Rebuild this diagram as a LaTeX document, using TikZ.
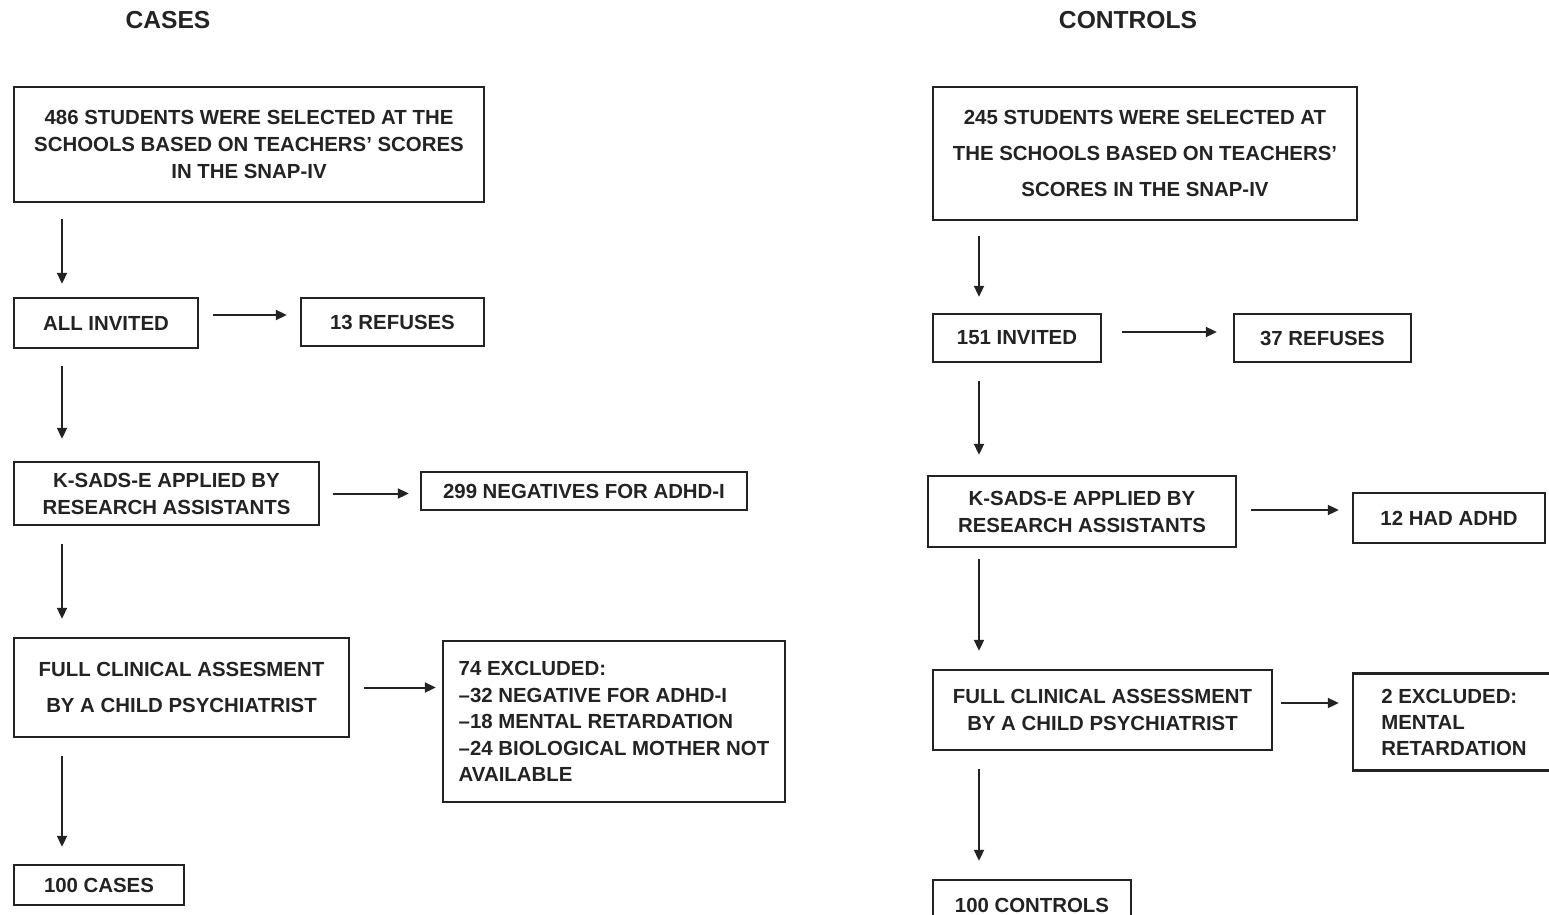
\documentclass[tikz,border=0pt]{standalone}
\usepackage{fontspec}
\setmainfont{Liberation Sans}
\usetikzlibrary{arrows.meta,calc}
\definecolor{ink}{RGB}{35,35,35}
\begin{document}
\begin{tikzpicture}[x=0.5pt,y=-0.5pt,
  box/.style={draw=ink,line width=1.2pt,inner sep=0pt,text=ink,align=center,
    font=\bfseries\fontsize{10.2}{13.5}\selectfont},
  wide/.style={font=\bfseries\fontsize{10.2}{18}\selectfont},
  arr/.style={draw=ink,line width=1pt,-{Triangle[length=5.5pt,width=5pt]}},
  ttl/.style={text=ink,font=\bfseries\fontsize{12.3}{14}\selectfont}]
\clip (0,0) rectangle (1549,915);
\fill[white] (0,0) rectangle (1549,915);
\coordinate (colL) at (62,0);
\coordinate (colR) at (979,0);
% titles
\node[ttl] (tc) at (168,20) {CASES};
\node[ttl] (tk) at (1128,20) {CONTROLS};
% cases column
\node[box,minimum width=235pt,minimum height=57.5pt] (A1) at (249,144.5)
  {486 STUDENTS WERE SELECTED AT THE\\SCHOOLS BASED ON TEACHERS' SCORES\\IN THE SNAP-IV};
\node[box,minimum width=92pt,minimum height=25pt] (A2) at (106,323) {ALL INVITED};
\node[box,minimum width=91.5pt,minimum height=24pt] (R1) at (392.5,322) {13 REFUSES};
\node[box,minimum width=152.5pt,minimum height=31.5pt] (A3) at (166.5,493.5)
  {K-SADS-E APPLIED BY\\RESEARCH ASSISTANTS};
\node[box,minimum width=163pt,minimum height=19pt] (R2) at (584,491) {299 NEGATIVES FOR ADHD-I};
\node[box,wide,minimum width=167.5pt,minimum height=49.5pt] (A4) at (181.5,687.5)
  {FULL CLINICAL ASSESMENT\\BY A CHILD PSYCHIATRIST};
\node[box,align=left,minimum width=171pt,minimum height=80.5pt,
  font=\bfseries\fontsize{10.2}{13.25}\selectfont] (R3) at (614,721.5)
  {74 EXCLUDED:\\–32 NEGATIVE FOR ADHD-I\\–18 MENTAL RETARDATION\\–24 BIOLOGICAL MOTHER NOT\\AVAILABLE};
\node[box,minimum width=85pt,minimum height=20pt] (A5) at (99,885) {100 CASES};
% controls column
\node[box,wide,minimum width=212pt,minimum height=66.5pt] (B1) at (1145,153.5)
  {245 STUDENTS WERE SELECTED AT\\THE SCHOOLS BASED ON TEACHERS'\\SCORES IN THE SNAP-IV};
\node[box,minimum width=84pt,minimum height=24pt] (B2) at (1017,338) {151 INVITED};
\node[box,minimum width=88.5pt,minimum height=24pt] (S1) at (1322.5,338) {37 REFUSES};
\node[box,minimum width=154pt,minimum height=35.5pt] (B3) at (1082,511.5)
  {K-SADS-E APPLIED BY\\RESEARCH ASSISTANTS};
\node[box,minimum width=96pt,minimum height=25pt] (S2) at (1449,518) {12 HAD ADHD};
\node[box,wide,align=left,minimum width=101pt,minimum height=48.5pt,
  font=\bfseries\fontsize{10.2}{13}\selectfont] (S3) at (1454,722)
  {2 EXCLUDED:\\MENTAL\\RETARDATION};
\node[box,minimum width=169.5pt,minimum height=40pt] (B4) at (1102.5,710)
  {FULL CLINICAL ASSESSMENT\\BY A CHILD PSYCHIATRIST};
\node[box,minimum width=99pt,minimum height=25pt] (B5) at (1032,905) {100 CONTROLS};
% vertical arrows, cases
\draw[arr] ($(A1.south -| colL)+(0,16)$) -- ($(A2.north -| colL)+(0,-13)$);
\draw[arr] ($(A2.south -| colL)+(0,17)$) -- ($(A3.north -| colL)+(0,-22)$);
\draw[arr] ($(A3.south -| colL)+(0,18)$) -- ($(A4.north -| colL)+(0,-18)$);
\draw[arr] ($(A4.south -| colL)+(0,18)$) -- ($(A5.north -| colL)+(0,-17)$);
% horizontal arrows, cases
\draw[arr] ($(A2.east)+(14,-8)$) -- ($(R1.west |- A2.east)+(-13,-8)$);
\draw[arr] ($(A3.east)+(13,0)$) -- ($(R2.west |- A3.east)+(-11,0)$);
\draw[arr] ($(A4.east)+(14,0)$) -- ($(R3.west |- A4.east)+(-6,0)$);
% vertical arrows, controls
\draw[arr] ($(B1.south -| colR)+(0,15)$) -- ($(B2.north -| colR)+(0,-16)$);
\draw[arr] ($(B2.south -| colR)+(0,18)$) -- ($(B3.north -| colR)+(0,-20)$);
\draw[arr] ($(B3.south -| colR)+(0,11)$) -- ($(B4.north -| colR)+(0,-18)$);
\draw[arr] ($(B4.south -| colR)+(0,18)$) -- ($(B5.north -| colR)+(0,-18)$);
% horizontal arrows, controls
\draw[arr] ($(B2.east)+(20,-6)$) -- ($(S1.west |- B2.east)+(-16,-6)$);
\draw[arr] ($(B3.east)+(14,-1.5)$) -- ($(S2.west |- B3.east)+(-13,-1.5)$);
\draw[arr] ($(B4.east)+(8,-7)$) -- ($(S3.west |- B4.east)+(-13,-7)$);
\end{tikzpicture}
\end{document}
